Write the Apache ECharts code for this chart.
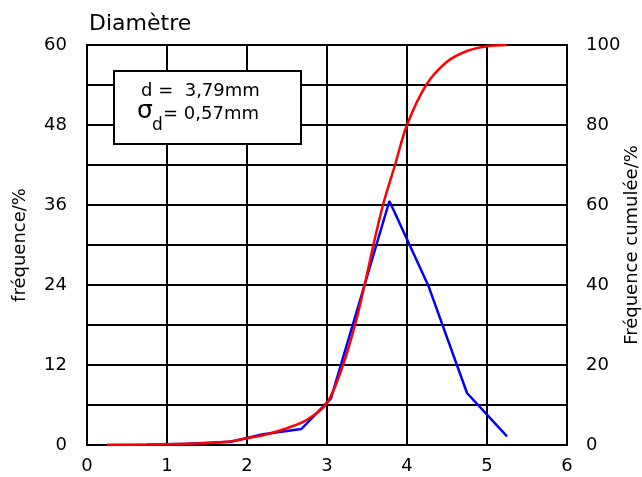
<!DOCTYPE html>
<html>
<head>
<meta charset="utf-8">
<script src="https://cdn.jsdelivr.net/npm/echarts@6/dist/echarts.min.js"></script>
<style>
  html, body { margin: 0; padding: 0; background: #fff; }
  #main { width: 642px; height: 477px; }
</style>
</head>
<body>
<div id="main"></div>
<script>
// fréquence (axe gauche)
var freqX = [0.25, 0.75, 1.25, 1.8, 2.2, 2.68, 3.05, 3.78, 4.27, 4.75, 5.25]
var freqY = [0, 0.05, 0.2, 0.5, 1.6, 2.4, 7, 36.6, 23.8, 7.8, 1.3]

// fréquence cumulée (axe droit)
var cumX = [0.25, 0.75, 1.25, 1.75, 2.0, 2.25, 2.5, 2.75, 3.0, 3.2, 3.35, 3.47, 3.58, 3.7, 3.85, 4.0, 4.24, 4.5, 4.75, 5.0, 5.25]
var cumY = [0, 0.1, 0.3, 0.8, 1.7, 2.7, 4.2, 6.3, 10.5, 20, 30, 40, 50, 60, 70, 80, 90, 95.8, 98.5, 99.7, 100]

var leftTicks = [0, 12, 24, 36, 48, 60]
var rightTicks = [0, 20, 40, 60, 80, 100]

var font = "DejaVu Sans"

var myChart = echarts.init(document.getElementById("main"))

var option = {
  animation: false,
  title: {
    text: "Diamètre",
    left: 84,
    top: 8,
    textStyle: { fontFamily: font, fontSize: 22, fontWeight: "normal", color: "#000" }
  },
  grid: {
    left: 87,
    right: 75,
    top: 45,
    bottom: 32,
    outerBoundsMode: "none",
    containLabel: false,
    show: true,
    borderColor: "#000",
    borderWidth: 2
  },
  xAxis: {
    type: "value",
    min: 0,
    max: 6,
    interval: 1,
    axisLine: { show: true, lineStyle: { color: "#000", width: 2 } },
    axisTick: { show: false },
    axisLabel: { margin: 12, fontFamily: font, fontSize: 18, color: "#000" },
    splitLine: { show: true, lineStyle: { color: "#000", width: 2 } }
  },
  yAxis: [
    {
      type: "value",
      min: 0,
      max: 60,
      interval: 6,
      name: "fréquence/%",
      nameLocation: "middle",
      nameGap: 58,
      nameTextStyle: { fontFamily: font, fontSize: 18, color: "#000" },
      axisLine: { show: true, lineStyle: { color: "#000", width: 2 } },
      axisTick: { show: false },
      axisLabel: {
        margin: 20,
        fontFamily: font,
        fontSize: 18,
        color: "#000",
        formatter: function (v) {
          return leftTicks.indexOf(v) >= 0 ? String(v) : ""
        }
      },
      splitLine: { show: true, lineStyle: { color: "#000", width: 2 } }
    },
    {
      type: "value",
      min: 0,
      max: 100,
      interval: 10,
      position: "right",
      axisLine: { show: true, lineStyle: { color: "#000", width: 2 } },
      axisTick: { show: false },
      axisLabel: {
        margin: 19,
        fontFamily: font,
        fontSize: 18,
        color: "#000",
        formatter: function (v) {
          return rightTicks.indexOf(v) >= 0 ? String(v) : ""
        }
      },
      splitLine: { show: false }
    }
  ],
  series: [
    {
      name: "fréquence",
      type: "line",
      yAxisIndex: 0,
      symbol: "none",
      lineStyle: { color: "#0000ff", width: 2.5 },
      data: freqX.map(function (x, i) { return [x, freqY[i]] }),
      z: 3
    },
    {
      name: "cumulée",
      type: "line",
      yAxisIndex: 1,
      symbol: "none",
      smooth: 0.35,
      lineStyle: { color: "#ff0000", width: 2.5 },
      data: cumX.map(function (x, i) { return [x, cumY[i]] }),
      z: 4
    }
  ],
  graphic: [
    {
      // nom de l'axe droit
      type: "text",
      x: 632,
      y: 245,
      rotation: Math.PI / 2,
      style: { text: "Fréquence cumulée/%", fontFamily: font, fontSize: 18, fill: "#000", align: "center", verticalAlign: "middle" }
    },
    {
      type: "rect",
      z: 100,
      shape: { x: 114, y: 71, width: 187, height: 73 },
      style: { fill: "#fff", stroke: "#000", lineWidth: 2 }
    },
    {
      type: "text",
      z: 101,
      x: 141,
      y: 82,
      style: { text: "d =  3,79mm", fontFamily: font, fontSize: 18, fill: "#000", verticalAlign: "top" }
    },
    {
      type: "text",
      z: 101,
      x: 137,
      y: 99,
      style: { text: "σ", fontFamily: font, fontSize: 25, fill: "#000", verticalAlign: "top" }
    },
    {
      type: "text",
      z: 101,
      x: 152,
      y: 117,
      style: { text: "d", fontFamily: font, fontSize: 17, fill: "#000", verticalAlign: "top" }
    },
    {
      type: "text",
      z: 101,
      x: 163,
      y: 105,
      style: { text: "= 0,57mm", fontFamily: font, fontSize: 18, fill: "#000", verticalAlign: "top" }
    }
  ]
}

myChart.setOption(option)
</script>
</body>
</html>
